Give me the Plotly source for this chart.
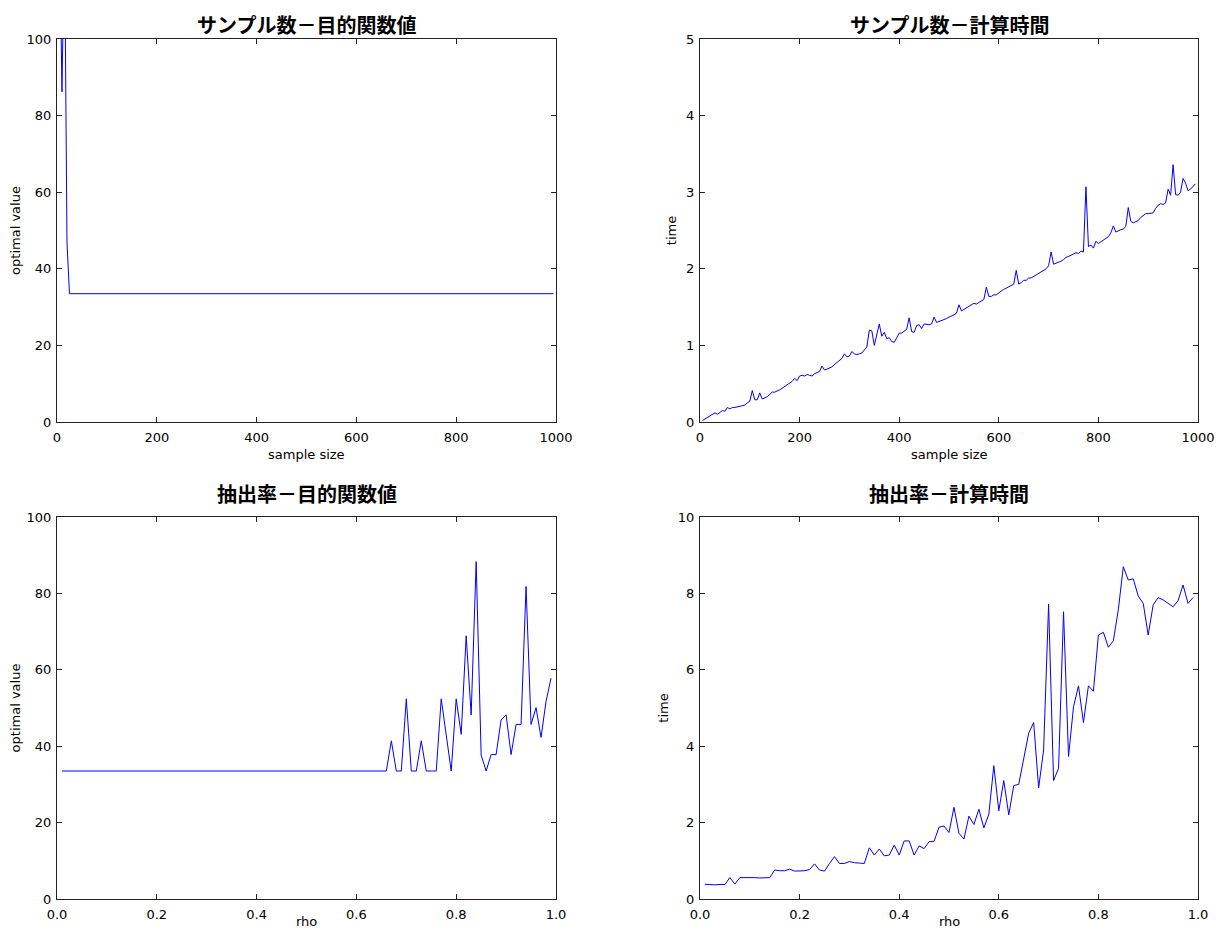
import plotly.graph_objects as go

# ---------------- data ----------------
sample_sizes = list(range(5, 1000, 5))  # 5, 10, ..., 995

opt_by_size = [
    130.0, 86.2, 130.0, 47.0,
    33.5, 33.5, 33.5, 33.5, 33.5, 33.5, 33.5, 33.5, 33.5, 33.5, 33.5, 33.5, 33.5, 33.5, 33.5,
    33.5, 33.5, 33.5, 33.5, 33.5, 33.5, 33.5, 33.5, 33.5, 33.5, 33.5, 33.5, 33.5, 33.5, 33.5,
    33.5, 33.5, 33.5, 33.5, 33.5, 33.5, 33.5, 33.5, 33.5, 33.5, 33.5, 33.5, 33.5, 33.5, 33.5,
    33.5, 33.5, 33.5, 33.5, 33.5, 33.5, 33.5, 33.5, 33.5, 33.5, 33.5, 33.5, 33.5, 33.5, 33.5,
    33.5, 33.5, 33.5, 33.5, 33.5, 33.5, 33.5, 33.5, 33.5, 33.5, 33.5, 33.5, 33.5, 33.5, 33.5,
    33.5, 33.5, 33.5, 33.5, 33.5, 33.5, 33.5, 33.5, 33.5, 33.5, 33.5, 33.5, 33.5, 33.5, 33.5,
    33.5, 33.5, 33.5, 33.5, 33.5, 33.5, 33.5, 33.5, 33.5, 33.5, 33.5, 33.5, 33.5, 33.5, 33.5,
    33.5, 33.5, 33.5, 33.5, 33.5, 33.5, 33.5, 33.5, 33.5, 33.5, 33.5, 33.5, 33.5, 33.5, 33.5,
    33.5, 33.5, 33.5, 33.5, 33.5, 33.5, 33.5, 33.5, 33.5, 33.5, 33.5, 33.5, 33.5, 33.5, 33.5,
    33.5, 33.5, 33.5, 33.5, 33.5, 33.5, 33.5, 33.5, 33.5, 33.5, 33.5, 33.5, 33.5, 33.5, 33.5,
    33.5, 33.5, 33.5, 33.5, 33.5, 33.5, 33.5, 33.5, 33.5, 33.5, 33.5, 33.5, 33.5, 33.5, 33.5,
    33.5, 33.5, 33.5, 33.5, 33.5, 33.5, 33.5, 33.5, 33.5, 33.5, 33.5, 33.5, 33.5, 33.5, 33.5,
    33.5, 33.5, 33.5, 33.5, 33.5, 33.5, 33.5, 33.5, 33.5, 33.5, 33.5, 33.5, 33.5, 33.5, 33.5,
]

time_by_size = [
    0.02, 0.04, 0.05, 0.07, 0.09, 0.12, 0.10, 0.12, 0.15, 0.14,
    0.19, 0.17, 0.19, 0.19, 0.20, 0.20, 0.21, 0.22, 0.25, 0.27,
    0.41, 0.29, 0.29, 0.38, 0.30, 0.31, 0.33, 0.36, 0.39, 0.39,
    0.40, 0.42, 0.44, 0.46, 0.48, 0.51, 0.53, 0.57, 0.54, 0.60,
    0.61, 0.60, 0.62, 0.61, 0.60, 0.63, 0.64, 0.66, 0.73, 0.68,
    0.69, 0.70, 0.72, 0.75, 0.78, 0.80, 0.83, 0.89, 0.85, 0.86,
    0.92, 0.89, 0.88, 0.89, 0.90, 0.94, 0.98, 1.20, 1.19, 1.00,
    1.14, 1.28, 1.12, 1.17, 1.09, 1.10, 1.05, 1.04, 1.10, 1.16,
    1.16, 1.19, 1.21, 1.36, 1.18, 1.17, 1.26, 1.27, 1.22, 1.28,
    1.27, 1.27, 1.28, 1.37, 1.30, 1.31, 1.32, 1.34, 1.35, 1.37,
    1.38, 1.40, 1.42, 1.53, 1.45, 1.47, 1.50, 1.51, 1.53, 1.55,
    1.54, 1.56, 1.58, 1.60, 1.76, 1.64, 1.64, 1.66, 1.66, 1.69,
    1.71, 1.73, 1.75, 1.77, 1.78, 1.80, 1.98, 1.80, 1.82, 1.85,
    1.85, 1.88, 1.88, 1.90, 1.92, 1.95, 1.97, 1.98, 2.00, 2.04,
    2.22, 2.06, 2.07, 2.08, 2.10, 2.12, 2.15, 2.16, 2.18, 2.19,
    2.21, 2.20, 2.23, 2.22, 3.07, 2.29, 2.31, 2.27, 2.36, 2.33,
    2.35, 2.37, 2.40, 2.42, 2.47, 2.56, 2.48, 2.50, 2.51, 2.52,
    2.55, 2.80, 2.62, 2.60, 2.61, 2.63, 2.67, 2.70, 2.72, 2.72,
    2.73, 2.73, 2.79, 2.83, 2.85, 2.84, 2.86, 3.04, 2.96, 3.36,
    2.97, 2.96, 3.00, 3.18, 3.12, 3.02, 3.04, 3.07, 3.11,
]

rho = [round(0.01 * i, 2) for i in range(1, 100)]  # 0.01 ... 0.99

opt_by_rho = [
    33.5, 33.5, 33.5, 33.5, 33.5, 33.5, 33.5, 33.5, 33.5, 33.5,
    33.5, 33.5, 33.5, 33.5, 33.5, 33.5, 33.5, 33.5, 33.5, 33.5,
    33.5, 33.5, 33.5, 33.5, 33.5, 33.5, 33.5, 33.5, 33.5, 33.5,
    33.5, 33.5, 33.5, 33.5, 33.5, 33.5, 33.5, 33.5, 33.5, 33.5,
    33.5, 33.5, 33.5, 33.5, 33.5, 33.5, 33.5, 33.5, 33.5, 33.5,
    33.5, 33.5, 33.5, 33.5, 33.5, 33.5, 33.5, 33.5, 33.5, 33.5,
    33.5, 33.5, 33.5, 33.5, 33.5, 33.5,
    41.4, 33.5, 33.5, 52.4, 33.5, 33.5, 41.4, 33.5, 33.5, 33.5,
    52.4, 43.0, 33.5, 52.4, 43.1, 68.9, 48.2, 88.3, 37.7, 33.5,
    37.8, 37.8, 46.9, 48.2, 37.8, 45.7, 45.7, 81.8, 45.7, 50.1,
    42.3, 51.7, 57.8,
]

time_by_rho = [
    0.385, 0.37, 0.37, 0.38, 0.38, 0.56, 0.39, 0.56, 0.56, 0.57,
    0.56, 0.55, 0.56, 0.56, 0.76, 0.74, 0.74, 0.78, 0.73, 0.74,
    0.74, 0.77, 0.92, 0.76, 0.73, 0.93, 1.11, 0.93, 0.93, 0.98,
    0.95, 0.94, 0.93, 1.34, 1.15, 1.31, 1.13, 1.15, 1.41, 1.15,
    1.52, 1.52, 1.15, 1.39, 1.32, 1.50, 1.51, 1.88, 1.91, 1.74,
    2.40, 1.72, 1.57, 2.17, 1.95, 2.35, 1.86, 2.22, 3.49, 2.31,
    3.10, 2.20, 2.97, 3.00, 3.71, 4.34, 4.62, 2.91, 3.90, 7.72,
    3.10, 3.42, 7.52, 3.73, 5.03, 5.58, 4.62, 5.58, 5.44, 6.91,
    6.98, 6.59, 6.76, 7.57, 8.70, 8.35, 8.38, 7.93, 7.74, 6.91,
    7.70, 7.89, 7.83, 7.74, 7.65, 7.81, 8.22, 7.74, 7.89,
]

titles = ["サンプル数－目的関数値", "サンプル数－計算時間", "抽出率－目的関数値", "抽出率－計算時間"]
xlabels = ["sample size", "sample size", "rho", "rho"]
ylabels = ["optimal value", "time", "optimal value", "time"]

# ---------------- figure ----------------
# the page body has an 8px margin, so the figure is drawn 8px in from the window corner
OFF = 8
W, H = 1223 - 2 * OFF, 939 - 2 * OFF
LINE = "#0000ff"
AXIS = "#222222"
TICKFONT = dict(family="DejaVu Sans", size=13, color="black")
LABELFONT = dict(family="DejaVu Sans", size=13, color="black")
TITLEFONT = dict(family="Noto Sans CJK JP", size=20, color="black")

# pixel boxes of plot areas in window coordinates: (left, right, top, bottom)
boxes = [(57, 556, 39, 422), (700, 1198, 39, 422), (57, 556, 517, 899), (700, 1198, 517, 899)]

fig = go.Figure()
series = [
    (sample_sizes, opt_by_size),
    (sample_sizes, time_by_size),
    (rho, opt_by_rho),
    (rho, time_by_rho),
]
xranges = [[0, 1000], [0, 1000], [0, 1], [0, 1]]
yranges = [[0, 100], [0, 5], [0, 100], [0, 10]]
xdticks = [200, 200, 0.2, 0.2]
ydticks = [20, 1, 20, 2]
xformats = ["d", "d", ".1f", ".1f"]

layout = {}
annotations = []
for i, ((x, y), (l, r, t, b)) in enumerate(zip(series, boxes)):
    l, r, t, b = l - OFF, r - OFF, t - OFF, b - OFF
    n = "" if i == 0 else str(i + 1)
    fig.add_trace(go.Scatter(x=x, y=y, mode="lines", line=dict(color=LINE, width=1),
                             xaxis="x" + n, yaxis="y" + n, showlegend=False))
    common = dict(showline=True, linecolor=AXIS, linewidth=1, mirror="ticks",
                  ticks="inside", ticklen=5, tickwidth=1, tickcolor=AXIS,
                  showgrid=False, zeroline=False, tickfont=TICKFONT, automargin=False)
    layout["xaxis" + n] = dict(domain=[l / W, r / W], range=xranges[i], anchor="y" + n,
                               dtick=xdticks[i], tick0=0, tickformat=xformats[i],
                               ticklabelstandoff=3, **common)
    layout["yaxis" + n] = dict(domain=[1 - b / H, 1 - t / H], range=yranges[i], anchor="x" + n,
                               dtick=ydticks[i], tick0=0, ticklabelstandoff=2,
                               title=dict(text=ylabels[i], font=LABELFONT, standoff=6),
                               **common)

    cx = (l + r) / 2 / W
    # subplot title
    if t < 100:
        annotations.append(dict(text="<b>" + titles[i] + "</b>", x=cx, y=1.0,
                                xref="paper", yref="paper", xanchor="center", yanchor="top",
                                showarrow=False, font=TITLEFONT))
    else:
        annotations.append(dict(text="<b>" + titles[i] + "</b>", x=cx, y=1 - (t - 24) / H,
                                xref="paper", yref="paper", xanchor="center", yanchor="middle",
                                showarrow=False, font=TITLEFONT))
    # x axis label
    if b + 32 + 9 < H:
        annotations.append(dict(text=xlabels[i], x=cx, y=1 - (b + 32) / H,
                                xref="paper", yref="paper", xanchor="center", yanchor="middle",
                                showarrow=False, font=LABELFONT))
    else:
        annotations.append(dict(text=xlabels[i], x=cx, y=0.0,
                                xref="paper", yref="paper", xanchor="center", yanchor="bottom",
                                showarrow=False, font=LABELFONT))

fig.update_layout(width=W, height=H, margin=dict(l=0, r=0, t=0, b=0),
                  paper_bgcolor="white", plot_bgcolor="white",
                  annotations=annotations, **layout)

fig.write_html("out.html")
